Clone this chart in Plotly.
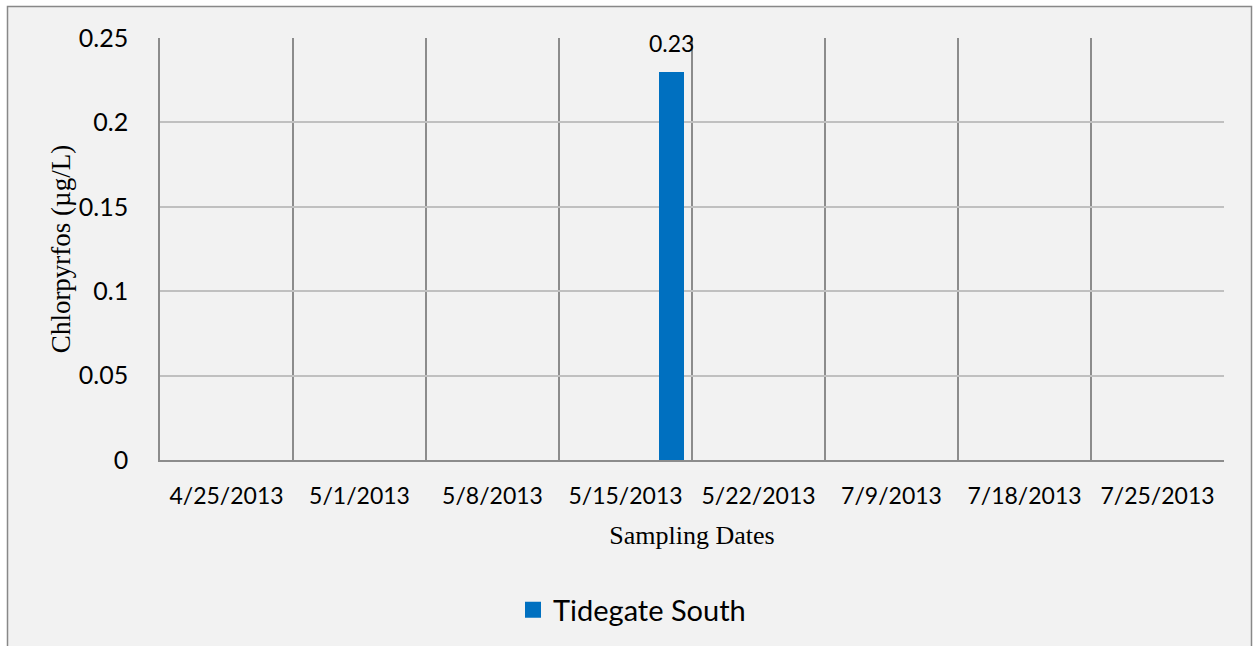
import plotly.graph_objects as go

# Sampling dates and measured chlorpyrifos concentrations (µg/L)
dates = ["4/25/2013", "5/1/2013", "5/8/2013", "5/15/2013",
         "5/22/2013", "7/9/2013", "7/18/2013", "7/25/2013"]
tidegate_south = [None, None, None, 0.23, None, None, None, None]
series_name = "Tidegate South"

y_ticks = [0, 0.05, 0.1, 0.15, 0.2, 0.25]
y_tick_labels = ["0", "0.05", "0.1", "0.15", "0.2", "0.25"]

BAR_COLOR = "#0070C0"
SANS = "Lato, 'Open Sans', sans-serif"
SERIF = "'Liberation Serif', 'Times New Roman', serif"

# bar sits in the right part of its category slot
BAR_OFFSET = 0.252
BAR_WIDTH = 0.188

fig = go.Figure()
fig.add_trace(go.Bar(
    x=dates,
    y=tidegate_south,
    name=series_name,
    legendgroup=series_name,
    marker=dict(color=BAR_COLOR, line=dict(width=0)),
    offset=BAR_OFFSET,
    width=BAR_WIDTH,
    showlegend=False,
))
# legend entry with a larger square swatch
fig.add_trace(go.Scatter(
    x=[None], y=[None], mode="markers",
    name=series_name, legendgroup=series_name,
    marker=dict(symbol="square", size=18, color=BAR_COLOR),
    showlegend=True, hoverinfo="skip",
))

# value labels above each bar
for d, v in zip(dates, tidegate_south):
    if v is None:
        continue
    fig.add_annotation(
        x=d, y=v, xref="x", yref="y",
        text=f"{v:g}", showarrow=False,
        xshift=(BAR_OFFSET + BAR_WIDTH / 2) * 133,
        yanchor="bottom", yshift=13,
        font=dict(family=SANS, size=23, color="#000000"),
    )

# outer chart frame
fig.add_shape(
    type="rect", xref="paper", yref="paper", layer="below",
    x0=(7.5 - 160) / 1064, x1=(1251.5 - 160) / 1064,
    y0=(461 - 660) / 423, y1=(461 - 6.5) / 423,
    fillcolor="#F2F2F2", line=dict(color="#888888", width=1.5),
)

fig.update_layout(
    width=1253, height=646,
    margin=dict(l=160, r=29, t=38, b=185),
    paper_bgcolor="#FFFFFF",
    plot_bgcolor="#F2F2F2",
    bargap=0,
    showlegend=True,
    legend=dict(
        orientation="h",
        x=(513 - 160) / 1064, xanchor="left",
        y=(461 - 610) / 423, yanchor="middle",
        font=dict(family=SANS, size=29, color="#000000"),
        bgcolor="rgba(0,0,0,0)",
    ),
    xaxis=dict(
        type="category",
        tickson="boundaries",
        showgrid=True, gridcolor="#8C8C8C", gridwidth=1.5,
        showline=True, linecolor="#8C8C8C", linewidth=1.5,
        ticks="", ticklabelstandoff=15,
        tickfont=dict(family=SANS, size=23, color="#000000"),
        title=dict(text="Sampling Dates", standoff=17,
                   font=dict(family=SERIF, size=26, color="#000000")),
        range=[-0.5, len(dates) - 0.5],
    ),
    yaxis=dict(
        range=[0, 0.25],
        tickvals=y_ticks, ticktext=y_tick_labels,
        showgrid=True, gridcolor="#C0C0C0", gridwidth=1.5,
        showline=True, linecolor="#8C8C8C", linewidth=1.5,
        zeroline=False,
        ticks="", ticklabelstandoff=25,
        tickfont=dict(family=SANS, size=25, color="#000000"),
        title=dict(text="Chlorpyrfos (µg/L)", standoff=0,
                   font=dict(family=SERIF, size=27, color="#000000")),
    ),
)

fig.write_html("out.html")
